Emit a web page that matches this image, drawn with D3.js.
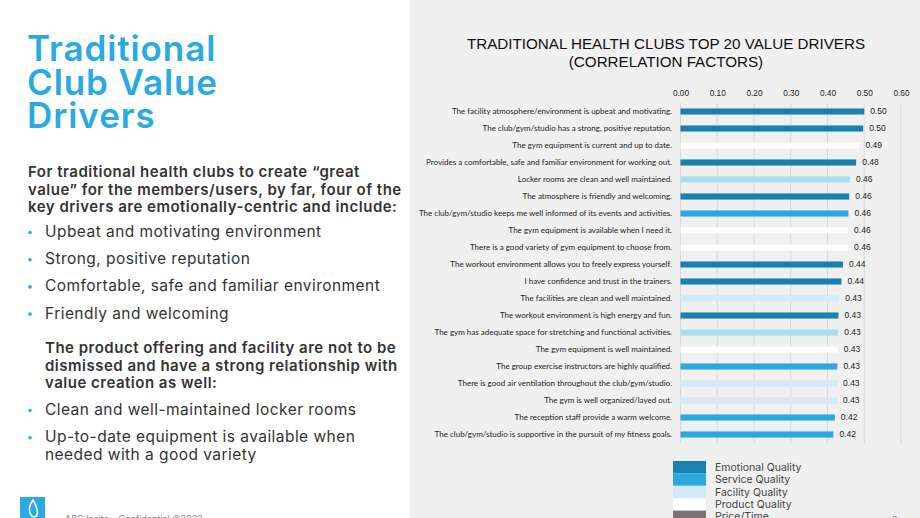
<!DOCTYPE html>
<html><head><meta charset="utf-8">
<script src="https://cdn.jsdelivr.net/npm/d3@7/dist/d3.min.js"></script>
<style>html,body{margin:0;padding:0;background:#fff;} svg{display:block}</style>
</head><body>
<svg id="c" width="920" height="518"></svg>
<script>
// ---------- DATA ----------
const drivers = [
  "The facility atmosphere/environment is upbeat and motivating.",
  "The club/gym/studio has a strong, positive reputation.",
  "The gym equipment is current and up to date.",
  "Provides a comfortable, safe and familiar environment for working out.",
  "Locker rooms are clean and well maintained.",
  "The atmosphere is friendly and welcoming.",
  "The club/gym/studio keeps me well informed of its events and activities.",
  "The gym equipment is available when I need it.",
  "There is a good variety of gym equipment to choose from.",
  "The workout environment allows you to freely express yourself.",
  "I have confidence and trust in the trainers.",
  "The facilities are clean and well maintained.",
  "The workout environment is high energy and fun.",
  "The gym has adequate space for stretching and functional activities.",
  "The gym equipment is well maintained.",
  "The group exercise instructors are highly qualified.",
  "There is good air ventilation throughout the club/gym/studio.",
  "The gym is well organized/layed out.",
  "The reception staff provide a warm welcome.",
  "The club/gym/studio is supportive in the pursuit of my fitness goals."
];
const values = [0.500, 0.497, 0.487, 0.478, 0.461, 0.459, 0.457, 0.456, 0.456, 0.442,
                0.438, 0.432, 0.430, 0.429, 0.428, 0.427, 0.426, 0.426, 0.420, 0.416];
const groups = ["Emotional Quality","Emotional Quality","Product Quality","Emotional Quality","Amenity Quality",
                "Emotional Quality","Service Quality","Product Quality","Product Quality","Emotional Quality",
                "Emotional Quality","Facility Quality","Emotional Quality","Amenity Quality","Product Quality",
                "Service Quality","Facility Quality","Facility Quality","Service Quality","Service Quality"];
const tickValues = [0, 0.1, 0.2, 0.3, 0.4, 0.5, 0.6];
const legendGroups = ["Emotional Quality","Service Quality","Facility Quality","Product Quality","Price/Time","Amenity Quality"];
const groupColors = ["#1a80b1","#2aa9e0","#d3ebf7","#ffffff","#7b7272","#a9dcf3"];

const titleLines = ["Traditional","Club Value","Drivers"];
const intro = ["For traditional health clubs to create \u201cgreat","value\u201d for the members/users, by far, four of the","key drivers are emotionally-centric and include:"];
const bullets1 = ["Upbeat and motivating environment","Strong, positive reputation","Comfortable, safe and familiar environment","Friendly and welcoming"];
const para2 = ["The product offering and facility are not to be","dismissed and have a strong relationship with","value creation as well:"];
const bullets2 = [["Clean and well-maintained locker rooms"],["Up-to-date equipment is available when","needed with a good variety"]];
const chartTitle = ["TRADITIONAL HEALTH CLUBS TOP 20 VALUE DRIVERS","(CORRELATION FACTORS)"];

// ---------- DRAW ----------
const svg = d3.select("#c");
const poppins = "Inter, 'Open Sans', sans-serif";

// right gray panel
svg.append("rect").attr("x",410).attr("y",0).attr("width",510).attr("height",518).attr("fill","#f0f0f0");

// left text
const L = svg.append("g");
L.selectAll("text.t").data(titleLines).join("text")
  .attr("x",27).attr("y",(d,i)=>61+i*33.5)
  .attr("font-family",poppins).attr("font-weight",600).attr("font-size",35).attr("letter-spacing",0.9)
  .attr("fill","#29abe2").text(d=>d);

L.selectAll("text.i").data(intro).join("text")
  .attr("x",28).attr("y",(d,i)=>177+i*17.5)
  .attr("font-family",poppins).attr("font-weight",600).attr("font-size",15).attr("letter-spacing",0.5)
  .attr("fill","#333").text(d=>d);

bullets1.forEach((b,i)=>{
  const y = 237 + i*27.2;
  L.append("circle").attr("cx",30).attr("cy",y-4.5).attr("r",1.8).attr("fill","#29abe2");
  L.append("text").attr("x",45).attr("y",y).attr("font-family",poppins).attr("font-size",15.5).attr("letter-spacing",0.45)
    .attr("fill","#333").text(b);
});

L.selectAll("text.p").data(para2).join("text")
  .attr("x",45).attr("y",(d,i)=>353+i*17.5)
  .attr("font-family",poppins).attr("font-weight",600).attr("font-size",15).attr("letter-spacing",0.5)
  .attr("fill","#333").text(d=>d);

bullets2.forEach((b,i)=>{
  const y = 415 + i*27.2;
  L.append("circle").attr("cx",30).attr("cy",y-4.5).attr("r",1.8).attr("fill","#29abe2");
  b.forEach((line,j)=>{
    L.append("text").attr("x",45).attr("y",y+j*18).attr("font-family",poppins).attr("font-size",15.5).attr("letter-spacing",0.45)
      .attr("fill","#333").text(line);
  });
});

// logo + footer
L.append("rect").attr("x",20).attr("y",497).attr("width",25).attr("height",25).attr("fill","#29abe2");
L.append("path").attr("d","M33,500 q-6,8 -2,15 q3,4 6,0 q2,-5 -4,-15 z").attr("fill","none").attr("stroke","#fff").attr("stroke-width",1.5);
L.append("text").attr("x",65).attr("y",522).attr("font-family",poppins).attr("font-size",9)
  .attr("fill","#888").text("ABC Insite \u2013 Confidential \u00a92022");
L.append("text").attr("x",892).attr("y",523).attr("font-family",poppins).attr("font-size",9)
  .attr("fill","#888").text("9");

// chart title
svg.selectAll("text.ct").data(chartTitle).join("text")
  .attr("x",666).attr("y",(d,i)=>48.5+i*18)
  .attr("text-anchor","middle").attr("font-family","'Liberation Sans', Arial, sans-serif")
  .attr("font-size",15.2).attr("fill","#111").text(d=>d);

// scales
const x = d3.scaleLinear().domain([0,0.6]).range([680.5,901]);
const y = d3.scaleBand().domain(drivers).range([103,443]).paddingInner(0.64).paddingOuter(0.32);
const color = d3.scaleOrdinal().domain(legendGroups).range(groupColors);

// grid
svg.append("g").selectAll("line").data(tickValues).join("line")
  .attr("x1",d=>x(d)).attr("x2",d=>x(d)).attr("y1",103).attr("y2",443)
  .attr("stroke","#d9d9d9").attr("stroke-width",1);

// top axis
const xAxis = svg.append("g").attr("transform","translate(0,96)")
  .call(d3.axisTop(x).tickValues(tickValues).tickFormat(d3.format(".2f")).tickSize(0).tickPadding(0));
xAxis.select(".domain").remove();
xAxis.selectAll("text").attr("font-family","'Liberation Sans', Arial, sans-serif").attr("font-size",8.3).attr("fill","#222");

// left axis labels
const yAxis = svg.append("g").attr("transform","translate(672,0)")
  .call(d3.axisLeft(y).tickSize(0).tickPadding(0));
yAxis.select(".domain").remove();
yAxis.selectAll("text").attr("font-family","Lato, 'Open Sans', sans-serif").attr("font-size",8.0).attr("fill","#222");

// bars
const data = drivers.map((d,i)=>({name:d, value:values[i], group:groups[i]}));
svg.append("g").selectAll("rect").data(data).join("rect")
  .attr("x",x(0)).attr("y",d=>y(d.name)).attr("width",d=>x(d.value)-x(0)).attr("height",y.bandwidth())
  .attr("fill",d=>color(d.group));

// value labels
svg.append("g").selectAll("text").data(data).join("text")
  .attr("x",d=>x(d.value)+6).attr("y",d=>y(d.name)+y.bandwidth()/2).attr("dy","0.35em")
  .attr("font-family","'Liberation Sans', Arial, sans-serif").attr("font-size",8.5).attr("fill","#222")
  .text(d=>d3.format(".2f")(d.value));

// legend
const lg = svg.append("g");
legendGroups.forEach((g,i)=>{
  const yy = 461 + i*12.4;
  lg.append("rect").attr("x",673).attr("y",yy).attr("width",33).attr("height",12.4).attr("fill",color(g));
  lg.append("text").attr("x",715).attr("y",yy+6.2).attr("dy","0.35em").attr("font-family",poppins)
    .attr("font-size",10.5).attr("fill","#444").text(g);
});
</script>
</body></html>
